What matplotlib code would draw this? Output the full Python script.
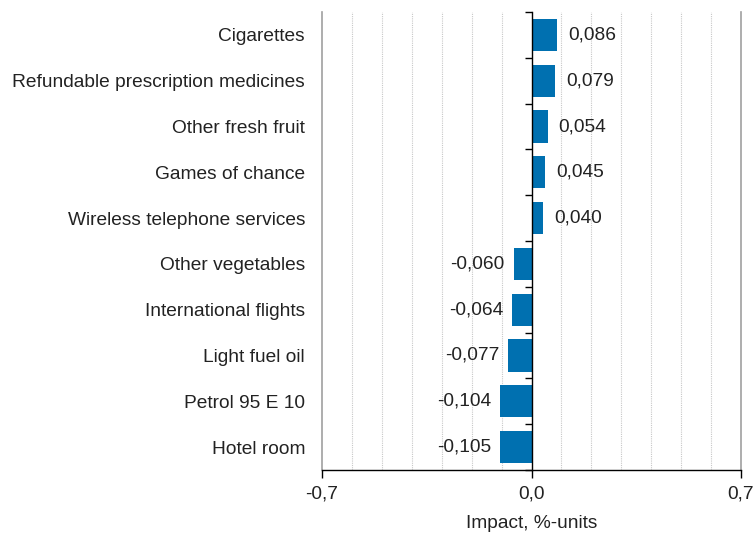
import matplotlib
matplotlib.use("Agg")
import matplotlib.pyplot as plt
import numpy as np

categories = ["Cigarettes", "Refundable prescription medicines", "Other fresh fruit",
              "Games of chance", "Wireless telephone services", "Other vegetables",
              "International flights", "Light fuel oil", "Petrol 95 E 10", "Hotel room"]
values = [0.086, 0.079, 0.054, 0.045, 0.040, -0.060, -0.064, -0.077, -0.104, -0.105]
value_labels = ["0,086", "0,079", "0,054", "0,045", "0,040", "-0,060", "-0,064", "-0,077", "-0,104", "-0,105"]
x_ticks = [-0.7, 0.0, 0.7]
x_tick_labels = ["-0,7", "0,0", "0,7"]
x_label = "Impact, %-units"

plt.rcParams['font.family'] = ['Liberation Sans', 'DejaVu Sans']
fs = 13.8

fig = plt.figure(figsize=(7.54, 5.37), dpi=100)
ax_left, ax_right = 322/754, 741/754
ax = fig.add_axes([ax_left, 1-470/537, ax_right-ax_left, (470-12)/537])

y = np.arange(len(categories))
ax.barh(y, values, height=0.7, color='#0070b0', zorder=3)
xmin, xmax = -0.7, 0.7
ax.set_xlim(xmin, xmax)
ax.set_ylim(len(categories)-0.5, -0.5)

for yi, v, lab in zip(y, values, value_labels):
    if v >= 0:
        ax.annotate(lab, (v, yi), xytext=(11, 0), textcoords='offset pixels',
                    ha='left', va='center', fontsize=fs, color='#222222')
    else:
        ax.annotate(lab, (v, yi), xytext=(-9, 0), textcoords='offset pixels',
                    ha='right', va='center', fontsize=fs, color='#222222')

# y axis line at x=0 with ticks between categories; labels pushed out to the left edge
ax.spines['left'].set_position(('data', 0))
ax.spines['left'].set_color('black')
ax.spines['left'].set_linewidth(1.0)
ax.spines['left'].set_zorder(4)
ax.set_yticks(y)
ax.set_yticklabels(categories, fontsize=fs, color='#222222')
ax.set_yticks(np.arange(-0.5, len(categories), 1.0), minor=True)
axes_px = (ax_right - ax_left) * 754
pad_px = axes_px * (0 - xmin) / (xmax - xmin) + 17
ax.tick_params(axis='y', which='major', length=0, pad=pad_px * 72 / 100)
ax.tick_params(axis='y', which='minor', length=5, width=1, direction='out', color='black')

# gray frame lines at the x limits
ax.axvline(xmin, color='#a0a0a0', linewidth=1.2, zorder=2, clip_on=False)
ax.spines['right'].set_color('#a0a0a0')
ax.spines['right'].set_linewidth(1.2)
ax.spines['top'].set_visible(False)
ax.spines['bottom'].set_color('black')
ax.spines['bottom'].set_linewidth(1.0)
ax.spines['bottom'].set_zorder(5)

ax.set_xticks(x_ticks)
ax.set_xticklabels(x_tick_labels, fontsize=fs, color='#222222')
ax.set_xticks(np.arange(-0.6, 0.65, 0.1), minor=True)
ax.tick_params(axis='x', which='major', length=6, width=1, color='black', direction='out', pad=5)
ax.tick_params(axis='x', which='minor', length=0)
ax.grid(axis='x', which='minor', linestyle=(0, (1, 1)), color='#c8c8c8', linewidth=0.8, zorder=0)
ax.set_xlabel(x_label, fontsize=fs, color='#222222', labelpad=9)

fig.savefig('out.png', dpi=100)
